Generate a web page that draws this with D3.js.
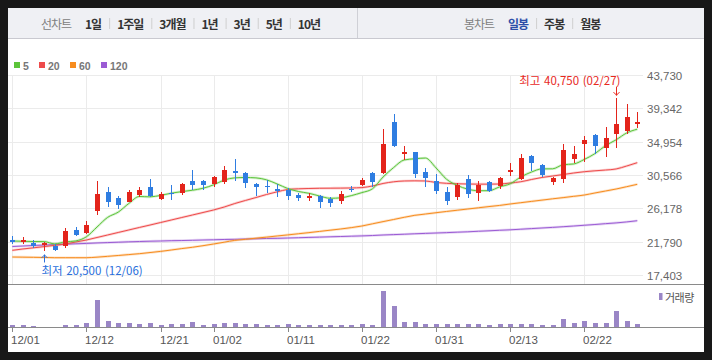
<!DOCTYPE html>
<html><head><meta charset="utf-8">
<script src="https://cdn.jsdelivr.net/npm/d3@7"></script>
<style>html,body{margin:0;padding:0;background:#181818;}svg{display:block}</style>
</head><body><svg id="c" width="712" height="360"></svg>
<script>
const dates = ["12/01","12/04","12/05","12/06","12/07","12/08","12/11","12/12","12/13","12/14","12/15","12/18","12/19","12/20","12/21","12/22","12/26","12/27","12/28",
"01/02","01/03","01/04","01/05","01/08","01/09","01/10","01/11","01/12","01/15","01/16","01/17","01/18","01/19","01/22","01/23","01/24","01/25","01/26","01/29","01/30","01/31",
"02/01","02/02","02/05","02/06","02/07","02/08","02/13","02/14","02/15","02/16","02/19","02/20","02/21","02/22","02/23","02/26","02/27","02/28","02/29"];
const open  = [22050,21750,21650,21400,21200,21260,23370,22930,25870,28370,27500,27050,27970,28990,27450,28200,28200,29780,29780,29420,29680,31090,30830,29380,29120,28760,28630,27930,27580,27840,27410,27180,28760,29250,30830,30870,37540,33500,33590,30960,29740,28330,27710,30000,28200,29680,29080,31050,30040,33110,31880,29680,30000,32670,34690,35870,34160,36000,36400,37450];
const high  = [22580,22470,22010,21700,21500,23590,23720,24550,29780,28990,27800,28590,28990,30040,28330,29250,29550,31160,29900,30430,31750,32670,30900,29550,29910,29340,28820,28240,28200,27930,27670,28460,29160,30170,30900,36620,38600,34380,33650,31490,30700,28950,29510,30530,29780,29820,30340,32150,33330,33200,32010,30340,34690,34380,35700,36000,36890,40750,39950,38860];
const low   = [21480,21480,20920,20500,20550,21000,22540,22800,25340,26390,26090,26990,27710,27630,27240,27280,27970,28550,28590,29030,29380,29820,28890,27800,28240,27710,27280,27180,27180,26260,26390,26790,28330,29160,28990,30700,34210,32480,30210,29030,28070,26660,27280,27580,27180,28330,28720,30470,29950,31090,30260,29290,29550,32150,32320,33370,32980,34080,36000,36750];
const close = [21790,22010,21220,21650,20700,23230,22630,23980,28070,27050,26660,28330,28590,27800,28030,28110,29380,29290,29290,30300,31220,30830,29550,29030,29030,28500,27840,27580,27840,27050,26920,28070,28590,29910,29680,34650,34420,33590,30740,30210,28500,27180,29210,28030,29250,28460,30130,31190,32800,32190,30530,30210,33860,33330,35170,34340,35440,37320,38200,37540];
const volume = [68000,68000,52000,0,0,92000,68000,148000,1092000,252000,148000,148000,108000,148000,68000,108000,108000,188000,68000,108000,148000,148000,108000,108000,68000,68000,108000,68000,68000,68000,68000,68000,68000,108000,68000,1452000,828000,188000,188000,108000,108000,108000,108000,108000,108000,68000,108000,108000,108000,108000,68000,68000,308000,148000,228000,148000,148000,628000,228000,108000];
const ma5   = [21880,21840,21810,21800,21500,21760,21890,22440,23720,24990,25680,26820,27740,27690,27880,28170,28380,28560,28820,29270,29900,30190,30240,30190,29930,29390,28790,28400,28160,27800,27500,27560,27850,28250,28750,30300,31550,32550,32700,32800,31500,30000,29200,28700,28500,28500,29000,29410,30300,30950,31370,31380,31920,32020,32620,33380,34430,35200,36100,36600];
const ma20  = [20650,20830,20980,21140,21300,21480,21750,22010,22340,22670,23000,23330,23660,23980,24310,24640,24970,25300,25630,25960,26350,26810,27210,27600,28000,28350,28660,28750,28790,28820,28830,28840,28860,28910,29120,29450,29670,29780,29800,29780,29580,29470,29410,29380,29360,29360,29380,29510,29680,29970,30240,30430,30630,30830,31000,31120,31220,31360,31750,32190];
const ma60  = [19770,19750,19730,19710,19680,19680,19680,19680,19750,19860,19970,20090,20210,20360,20510,20690,20880,21050,21260,21480,21720,21960,22100,22250,22390,22540,22680,22830,22980,23140,23300,23460,23640,23850,24140,24430,24710,25000,25260,25430,25600,25770,25930,26090,26250,26410,26560,26750,26920,27090,27260,27430,27590,27760,27930,28200,28460,28720,29030,29340];
const ma120 = [21150,21220,21290,21350,21400,21460,21510,21560,21620,21670,21720,21770,21810,21850,21880,21920,21940,21970,22010,22040,22080,22100,22140,22170,22210,22230,22270,22310,22350,22390,22430,22470,22510,22550,22600,22670,22720,22770,22830,22880,22930,22980,23040,23090,23160,23220,23290,23350,23430,23510,23590,23670,23760,23850,23950,24050,24160,24260,24390,24550];
const yTicks = [17403,21790,26178,30566,34954,39342,43730];
const xTicks = ["12/01","12/12","12/21","01/02","01/11","01/22","01/31","02/13","02/22"];
const lineItems = ["1일","1주일","3개월","1년","3년","5년","10년"];
const candleItems = ["일봉","주봉","월봉"];
const maNames = ["5","20","60","120"];

const RED="#e3241b", BLUE="#2f7de1";
const maColors = ["#5cc43a","#ee4b4b","#f78c1e","#9b5bd4"];
const KR = "'Noto Sans CJK KR','Noto Sans',sans-serif";
const NUM = "'Liberation Sans',Arial,sans-serif";

const svg = d3.select("#c");
svg.append("rect").attr("x",8).attr("y",8).attr("width",696).attr("height",344).attr("fill","#fff");
// header
svg.append("rect").attr("x",8).attr("y",8).attr("width",696).attr("height",30).attr("fill","#eff0f4");
svg.append("line").attr("x1",8).attr("x2",704).attr("y1",38.5).attr("y2",38.5).attr("stroke","#c9c9d0");
svg.append("line").attr("x1",357.5).attr("x2",357.5).attr("y1",8).attr("y2",38).attr("stroke","#cfd0d6");
const hdr = svg.append("g").attr("font-family",KR).attr("font-size",12).attr("letter-spacing","-1px");
function headerRow(label, lx, items, startX, activeIdx){
  hdr.append("text").attr("x",lx).attr("y",23.5).attr("dominant-baseline","central").attr("fill","#808080").text(label);
  let xx = startX;
  items.forEach((t,i)=>{
    const el = hdr.append("text").attr("x",xx).attr("y",23.5).attr("dominant-baseline","central")
      .attr("font-weight",700).attr("fill", i===activeIdx?"#2d4fa8":"#333").text(t);
    const w = el.node().getComputedTextLength();
    if(i<items.length-1){
      hdr.append("line").attr("x1",xx+w+8.5).attr("x2",xx+w+8.5).attr("y1",18).attr("y2",29).attr("stroke","#cfcfcf");
    }
    xx += w + 16;
  });
}
headerRow("선차트",41,lineItems,85,-1);
headerRow("봉차트",464,candleItems,508,0);

// scales
const x = d3.scalePoint().domain(dates).range([12.3,637.3]);
const y = d3.scaleLinear().domain([17403,43730]).range([275,75]);
const yv = d3.scaleLinear().domain([0,1680000]).range([327,285]);
const px = d => Math.round(x(d));

// grid
const grid = svg.append("g").attr("stroke","#ebebeb").attr("shape-rendering","crispEdges");
grid.selectAll(".h").data(yTicks).join("line").attr("x1",8).attr("x2",643)
  .attr("y1",d=>Math.round(y(d))+0.5).attr("y2",d=>Math.round(y(d))+0.5);
grid.selectAll(".v").data(xTicks).join("line").attr("y1",75).attr("y2",284)
  .attr("x1",d=>px(d)+0.5).attr("x2",d=>px(d)+0.5);

// y axis
const ya = svg.append("g").attr("transform","translate(647,0)")
  .call(d3.axisRight(y).tickValues(yTicks).tickFormat(d3.format(",")).tickSize(0).tickPadding(0));
ya.select(".domain").remove();
ya.selectAll("text").attr("font-family",NUM).attr("font-size",11.5).attr("fill","#666").attr("dy","0.4em");

// legend
const leg = svg.append("g").attr("font-family",NUM).attr("font-size",10.5).attr("font-weight",700).attr("fill","#777");
const legX = [14,39,70,101];
maNames.forEach((n,i)=>{
  leg.append("rect").attr("x",legX[i]).attr("y",62).attr("width",6).attr("height",6).attr("fill",maColors[i]);
  leg.append("text").attr("x",legX[i]+9).attr("y",65.5).attr("dominant-baseline","central").text(n);
});

// MA lines
const mas = [ma120, ma60, ma20, ma5];
const masCol = [maColors[3], maColors[2], maColors[1], maColors[0]];
const lineGen = d3.line().x((d,i)=>x(dates[i])).y(d=>y(d)).curve(d3.curveMonotoneX);
mas.forEach((m,k)=>{
  svg.append("path").attr("d",lineGen(m)).attr("fill","none").attr("stroke",masCol[k]).attr("stroke-width",2.6).attr("stroke-opacity",0.25);
  svg.append("path").attr("d",lineGen(m)).attr("fill","none").attr("stroke",masCol[k]).attr("stroke-width",1);
});

// candles
const idx = d3.range(dates.length);
const cg = svg.append("g").attr("shape-rendering","crispEdges");
cg.selectAll("line").data(idx).join("line")
  .attr("x1",i=>px(dates[i])+0.5).attr("x2",i=>px(dates[i])+0.5)
  .attr("y1",i=>y(high[i])).attr("y2",i=>y(low[i]))
  .attr("stroke",i=>close[i]>=open[i]?RED:BLUE);
cg.selectAll("rect").data(idx).join("rect")
  .attr("x",i=>px(dates[i])-2).attr("width",5)
  .attr("y",i=>y(Math.max(open[i],close[i])))
  .attr("height",i=>Math.max(1.5,Math.abs(y(open[i])-y(close[i]))))
  .attr("fill",i=>close[i]>=open[i]?RED:BLUE);

// low / high annotations
const iLow = d3.minIndex(low), iHigh = d3.maxIndex(high);
const fmt = d3.format(",");
const lx = px(dates[iLow])+0.5, hx = px(dates[iHigh])+0.5;
const ann = svg.append("g").attr("font-family",KR).attr("font-size",11.5).attr("fill","none");
ann.append("line").attr("x1",lx).attr("x2",lx).attr("y1",y(low[iLow])+3).attr("y2",y(low[iLow])+11).attr("stroke","#2a6fdb");
ann.append("path").attr("d",`M${lx-3},${y(low[iLow])+6.5}L${lx},${y(low[iLow])+3.5}L${lx+3},${y(low[iLow])+6.5}`).attr("stroke","#2a6fdb");
ann.append("text").attr("x",lx-3).attr("y",269.5).attr("dominant-baseline","central").attr("fill","#2a6fdb")
  .attr("word-spacing","1px").text(`최저 ${fmt(low[iLow])} (${dates[iLow]})`);
ann.append("line").attr("x1",hx).attr("x2",hx).attr("y1",y(high[iHigh])-11).attr("y2",y(high[iHigh])-2).attr("stroke","#e8281e");
ann.append("path").attr("d",`M${hx-3},${y(high[iHigh])-5.5}L${hx},${y(high[iHigh])-2.5}L${hx+3},${y(high[iHigh])-5.5}`).attr("stroke","#e8281e");
ann.append("text").attr("x",hx+4).attr("y",79.5).attr("text-anchor","end").attr("dominant-baseline","central").attr("fill","#e8281e")
  .attr("word-spacing","1px").text(`최고 ${fmt(high[iHigh])} (${dates[iHigh]})`);

// panel borders
svg.append("line").attr("x1",8).attr("x2",704).attr("y1",284.5).attr("y2",284.5).attr("stroke","#8a8a8a");

// volume
const vg = svg.append("g").attr("shape-rendering","crispEdges");
vg.selectAll("rect").data(idx).join("rect")
  .attr("x",i=>px(dates[i])-2).attr("width",5)
  .attr("y",i=>yv(volume[i])).attr("height",i=>327-yv(volume[i]))
  .attr("fill","#9a86c6");
svg.append("rect").attr("x",659).attr("y",293).attr("width",3.5).attr("height",7).attr("fill","#9a86c6");
svg.append("text").attr("x",665).attr("y",297).attr("dominant-baseline","central").attr("font-family",KR)
  .attr("font-size",11).attr("letter-spacing","-0.5px").attr("fill","#555").text("거래량");

// x axis
const xa = svg.append("g").attr("transform","translate(0,327)")
  .call(d3.axisBottom(x).tickValues(xTicks).tickSize(5).tickPadding(4));
xa.select(".domain").remove();
xa.selectAll(".tick").attr("transform",d=>`translate(${px(d)+0.5},0)`);
xa.selectAll(".tick line").attr("stroke","#888");
xa.selectAll("text").attr("font-family",NUM).attr("font-size",11.5).attr("fill","#555").attr("text-anchor","start").attr("x",-1.5);
svg.append("line").attr("x1",8).attr("x2",704).attr("y1",327.5).attr("y2",327.5).attr("stroke","#8a8a8a");
</script></body></html>
